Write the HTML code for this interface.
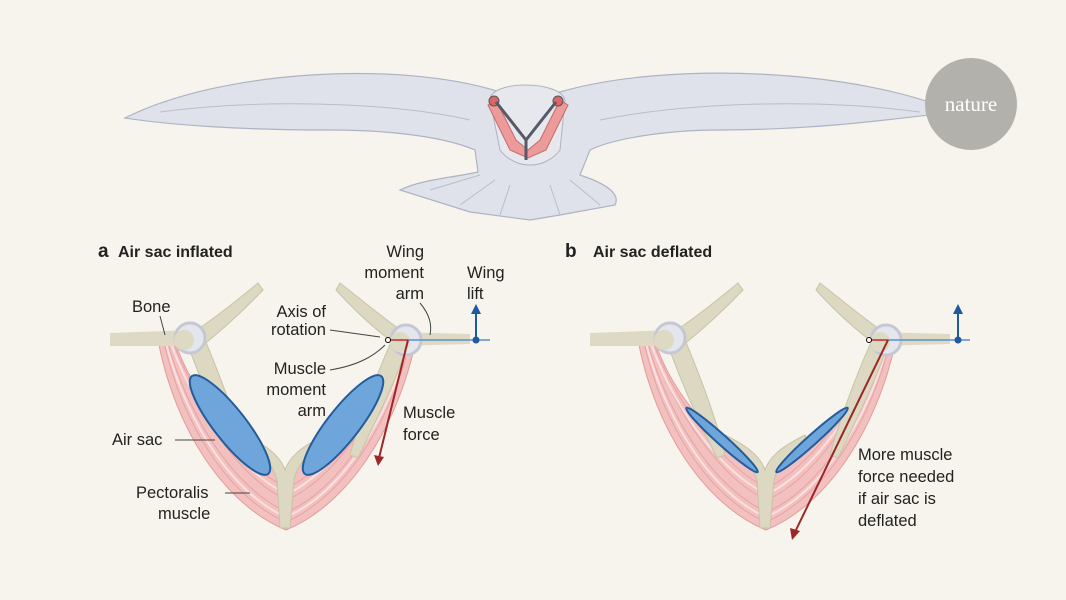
<!DOCTYPE html>
<html><head><meta charset="utf-8"><style>
html,body{margin:0;padding:0;background:#f6f4ec;}
svg{display:block}
text{font-family:"Liberation Sans",sans-serif;fill:#222;}
</style></head><body>
<svg width="1066" height="600" viewBox="0 0 1066 600">
<rect width="1066" height="600" fill="#f6f4ec"/>
<defs>
<g id="panel">
  <!-- muscles -->
  <path d="M48,340 C65,430 115,505 176,530 C237,505 287,430 306,340 L292,345 C272,400 225,450 178,470 C131,450 86,400 66,345 Z" fill="#f3c0c0" stroke="#e49a9a" stroke-width="1"/>
  <g fill="none" stroke="#e6a2a2" stroke-width="1">
  <path d="M54,342 C72,425 120,498 176,522 C232,498 280,425 300,342"/>
  <path d="M58,344 C80,420 126,490 177,512 C228,490 274,420 296,344"/>
  <path d="M62,345 C86,415 132,480 177,500 C222,480 268,415 294,345"/>
  <path d="M64,345 C90,410 136,468 177,488 C218,468 262,410 292,345"/>
  </g>
  <g fill="none" stroke="#fbe0e0" stroke-width="2">
  <path d="M56,343 C76,422 123,494 176,517 C230,494 277,422 298,343"/>
  <path d="M62,346 C86,412 133,474 177,494 C220,474 266,412 293,346"/>
  </g>
  <!-- horizontal bones -->
  <path d="M0,333 L85,330 L95,346 L0,346 Z" fill="#ddd9c3"/>
  <path d="M285,332 L360,334 L360,344 L285,346 Z" fill="#ddd9c3"/>
  <!-- upward clavicles -->
  <path d="M80,334 C100,322 125,302 148,283 L153,290 C132,312 112,330 92,346 Z" fill="#dcd8c1" stroke="#c9c4a8"/>
  <path d="M296,334 C276,320 254,302 230,283 L226,290 C246,312 268,332 288,346 Z" fill="#dcd8c1" stroke="#c9c4a8"/>
  <!-- coracoids -->
  <path d="M78,345 L95,340 C112,380 128,425 135,455 L127,458 C108,420 92,385 78,345 Z" fill="#dcd8c1" stroke="#c9c4a8"/>
  <path d="M298,345 L282,340 C264,380 248,425 240,455 L248,458 C266,420 284,385 298,345 Z" fill="#dcd8c1" stroke="#c9c4a8"/>
  <!-- joints -->
  <circle cx="80" cy="338" r="15" fill="#e4e6ee" stroke="#c5c8d4" stroke-width="3"/>
  <circle cx="296" cy="340" r="15" fill="#e4e6ee" stroke="#c5c8d4" stroke-width="3"/>
  <circle cx="74" cy="340" r="10" fill="#ddd9c3"/>
  <circle cx="290" cy="342" r="10" fill="#ddd9c3"/>
  <!-- sternum -->
  <path d="M135,435 C155,445 170,455 175,470 C180,455 195,445 215,435 L218,442 C200,452 188,462 184,480 L180,528 L170,528 L167,480 C162,462 150,452 132,442 Z" fill="#dcd8c1" stroke="#c9c4a8"/>
</g>
</defs>
<!-- bird -->
<g>
  <path d="M125,118 C220,70 400,60 500,92 L560,92 C670,60 860,70 955,112 C900,118 820,130 720,130 C660,130 610,140 590,150 L580,175 C610,185 620,195 615,205 L560,215 L530,220 L470,212 L400,190 C420,180 450,178 478,172 L475,150 C440,135 380,130 330,130 C240,130 170,125 125,118 Z" fill="#dfe2ea" stroke="#aeb3c3" stroke-width="1.2"/>
  <g fill="none" stroke="#b8bdcb" stroke-width="1">
  <path d="M160,112 C250,100 380,100 470,120"/><path d="M600,120 C700,100 830,100 920,112"/>
  <path d="M430,190 L480,175"/><path d="M460,205 L495,180"/><path d="M500,215 L510,185"/><path d="M560,215 L550,185"/><path d="M600,205 L570,180"/>
  </g>
  <path d="M490,100 C490,80 560,80 565,100 L560,150 C545,170 515,170 500,150 Z" fill="#e6e8ee" stroke="#aeb3c3"/>
  <path d="M488,105 L510,150 L528,158 L546,150 L568,105 L560,100 L540,140 L528,150 L516,140 L496,100 Z" fill="#ec9a9a" stroke="#c86a6a"/>
  <circle cx="494" cy="101" r="5" fill="#d66" stroke="#555"/>
  <circle cx="558" cy="101" r="5" fill="#d66" stroke="#555"/>
  <path d="M496,102 L526,140 L556,102" fill="none" stroke="#555a66" stroke-width="3"/>
  <path d="M526,140 L526,160" stroke="#555a66" stroke-width="3"/>
</g>
<circle cx="971" cy="104" r="46" fill="#b3b1ab"/>
<text x="971" y="111" text-anchor="middle" style="font-family:'Liberation Serif',serif;font-size:21px;fill:#fff">nature</text>

<!-- panel a -->
<g transform="translate(110,0)"><use href="#panel"/></g>
<ellipse cx="230" cy="425" rx="62" ry="16" transform="rotate(52 230 425)" fill="#6ea6dc" stroke="#245c9c" stroke-width="2"/>
<ellipse cx="343" cy="425" rx="62" ry="16" transform="rotate(-52 343 425)" fill="#6ea6dc" stroke="#245c9c" stroke-width="2"/>
<line x1="388" y1="340" x2="490" y2="340" stroke="#5a8fcc" stroke-width="1.5"/>
<line x1="476" y1="340" x2="476" y2="312" stroke="#1f5aa0" stroke-width="2"/>
<path d="M471,314 L476,304 L481,314 Z" fill="#1f5aa0"/>
<circle cx="476" cy="340" r="3.5" fill="#1f5aa0"/>
<line x1="390" y1="340" x2="408" y2="340" stroke="#d33" stroke-width="1.5"/>
<line x1="408" y1="340" x2="379" y2="458" stroke="#9c2626" stroke-width="2"/>
<path d="M374,455 L378,466 L384,457 Z" fill="#9c2626"/>
<circle cx="388" cy="340" r="2.5" fill="#fff" stroke="#000"/>
<g font-size="16.5">
<text x="98" y="257" style="font-weight:bold;font-size:19px">a</text>
<text x="118" y="257" style="font-weight:bold;font-size:16px">Air sac inflated</text>
<text x="132" y="312">Bone</text>
<text x="326" y="317" text-anchor="end">Axis of</text>
<text x="326" y="335" text-anchor="end">rotation</text>
<text x="326" y="374" text-anchor="end">Muscle</text>
<text x="326" y="395" text-anchor="end">moment</text>
<text x="326" y="416" text-anchor="end">arm</text>
<text x="424" y="257" text-anchor="end">Wing</text>
<text x="424" y="278" text-anchor="end">moment</text>
<text x="424" y="299" text-anchor="end">arm</text>
<text x="467" y="278">Wing</text>
<text x="467" y="299">lift</text>
<text x="403" y="418">Muscle</text>
<text x="403" y="440">force</text>
<text x="112" y="445">Air sac</text>
<text x="136" y="498">Pectoralis</text>
<text x="158" y="519">muscle</text>
<text x="565" y="257" style="font-weight:bold;font-size:19px">b</text>
<text x="593" y="257" style="font-weight:bold;font-size:16px">Air sac deflated</text>
<text x="858" y="460">More muscle</text>
<text x="858" y="482">force needed</text>
<text x="858" y="504">if air sac is</text>
<text x="858" y="526">deflated</text>
</g>
<g fill="none" stroke="#444" stroke-width="1">
<line x1="160" y1="316" x2="165" y2="335"/>
<path d="M330,330 L380,337"/>
<path d="M330,370 C360,365 375,355 385,345"/>
<path d="M420,303 C430,315 432,325 430,335"/>
<line x1="175" y1="440" x2="215" y2="440"/>
<line x1="225" y1="493" x2="250" y2="493"/>
</g>

<!-- panel b -->
<g transform="translate(590,0)"><use href="#panel"/></g>
<ellipse cx="722" cy="440" rx="48" ry="5" transform="rotate(42 722 440)" fill="#6ea6dc" stroke="#245c9c" stroke-width="2"/>
<ellipse cx="812" cy="440" rx="48" ry="5" transform="rotate(-42 812 440)" fill="#6ea6dc" stroke="#245c9c" stroke-width="2"/>
<line x1="868" y1="340" x2="970" y2="340" stroke="#5a8fcc" stroke-width="1.5"/>
<line x1="958" y1="340" x2="958" y2="312" stroke="#1f5aa0" stroke-width="2"/>
<path d="M953,314 L958,304 L963,314 Z" fill="#1f5aa0"/>
<circle cx="958" cy="340" r="3.5" fill="#1f5aa0"/>
<line x1="870" y1="340" x2="888" y2="340" stroke="#d33" stroke-width="1.5"/>
<line x1="888" y1="340" x2="795" y2="532" stroke="#9c2626" stroke-width="2"/>
<path d="M790,528 L792,540 L800,531 Z" fill="#9c2626"/>
<circle cx="869" cy="340" r="2.5" fill="#fff" stroke="#000"/>
</svg>
</body></html>
